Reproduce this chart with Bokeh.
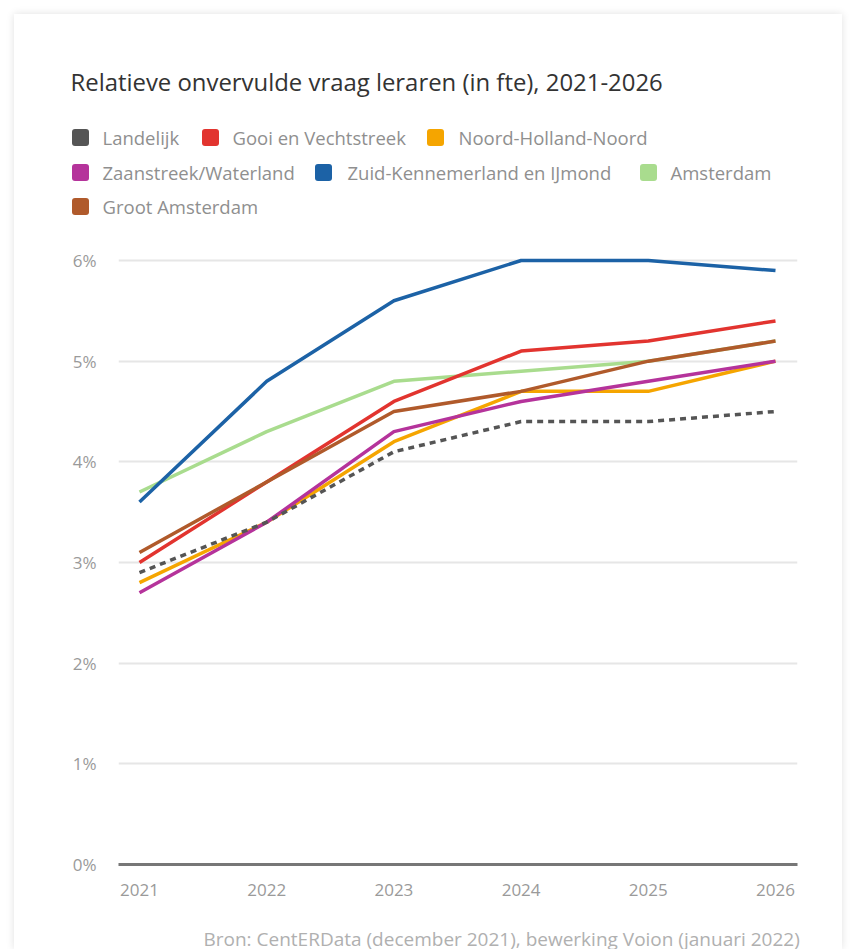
from bokeh.plotting import figure
from bokeh.models import Range1d, FixedTicker, PrintfTickFormatter
from bokeh.layouts import column
from bokeh.core.properties import value
from bokeh.embed import file_html
from bokeh.resources import INLINE

# ---------------- data ----------------
years = [2021, 2022, 2023, 2024, 2025, 2026]
series_names = ["Landelijk", "Gooi en Vechtstreek", "Noord-Holland-Noord",
                "Zaanstreek/Waterland", "Zuid-Kennemerland en IJmond",
                "Amsterdam", "Groot Amsterdam"]
landelijk = [2.9, 3.4, 4.1, 4.4, 4.4, 4.5]
gooi_vechtstreek = [3.0, 3.8, 4.6, 5.1, 5.2, 5.4]
noord_holland_noord = [2.8, 3.4, 4.2, 4.7, 4.7, 5.0]
zaanstreek_waterland = [2.7, 3.4, 4.3, 4.6, 4.8, 5.0]
zuid_kennemerland = [3.6, 4.8, 5.6, 6.0, 6.0, 5.9]
amsterdam = [3.7, 4.3, 4.8, 4.9, 5.0, 5.2]
groot_amsterdam = [3.1, 3.8, 4.5, 4.7, 5.0, 5.2]
y_ticks = [0, 1, 2, 3, 4, 5, 6]

title_text = "Relatieve onvervulde vraag leraren (in fte), 2021-2026"
source_text = "Bron:  CentERData (december 2021), bewerking Voion (januari 2022)"

# ---------------- styles ----------------
all_series = [landelijk, gooi_vechtstreek, noord_holland_noord, zaanstreek_waterland,
              zuid_kennemerland, amsterdam, groot_amsterdam]
colors = ["#555555", "#e2342f", "#f5a500", "#b5339b", "#1c62a6", "#a9dc8e", "#b05a2b"]
dashes = ["6 5", "solid", "solid", "solid", "solid", "solid", "solid"]
draw_order = [5, 4, 2, 3, 1, 6, 0]

FONT = "Open Sans"
CARD_L, CARD_R, CARD_T = 14, 842, 14
W = CARD_R - CARD_L

# legend layout (page pixel coordinates: swatch centre x, text x, row y)
legend_pos = [(80, 102, 137), (210, 232, 137), (435, 458, 137),
              (80, 102, 172), (323, 347, 172), (648, 670, 172),
              (80, 102, 206)]


def blank(fig):
    fig.axis.visible = False
    fig.grid.visible = False
    fig.outline_line_color = None
    fig.background_fill_color = "white"
    fig.border_fill_color = "white"


# ---------------- header ----------------
HEADER_B = 230
header = figure(width=W, height=HEADER_B - CARD_T, output_backend="svg",
                toolbar_location=None, x_range=Range1d(CARD_L, CARD_R),
                y_range=Range1d(HEADER_B, CARD_T), min_border=0, frame_align=False)
blank(header)
header.text(x=[70], y=[81], text=[title_text], text_font=value(FONT),
            text_font_size="23.9px", text_color="#333333", text_baseline="middle")
header.rect(x=[q[0] for q in legend_pos], y=[q[2] for q in legend_pos],
            width=17, height=17, fill_color=colors, line_color=None,
            border_radius=3)
header.text(x=[q[1] for q in legend_pos], y=[q[2] for q in legend_pos],
            text=series_names, text_font=value(FONT), text_font_size="18.5px",
            text_color="#8f8f8f", text_baseline="middle")

# ---------------- main chart ----------------
FRAME_L, FRAME_R, FRAME_T, FRAME_B = 118, 797, 230, 864
MAIN_B = 914
px_per_year = (775 - 139) / 5.0
x0 = 2021 - (139 - FRAME_L) / px_per_year
x1 = 2026 + (FRAME_R - 775) / px_per_year
px_per_pct = (864 - 260) / 6.0
y1 = 6 + (260 - FRAME_T) / px_per_pct

p = figure(width=W, height=MAIN_B - HEADER_B, output_backend="svg",
           toolbar_location=None, x_range=Range1d(x0, x1), y_range=Range1d(0, y1),
           min_border_left=FRAME_L - CARD_L, min_border_right=CARD_R - FRAME_R,
           min_border_top=0, min_border_bottom=MAIN_B - FRAME_B, frame_align=False)
p.outline_line_color = None
p.background_fill_color = "white"
p.border_fill_color = "white"

for i in draw_order:
    p.line(years, all_series[i], line_color=colors[i], line_width=3.5,
           line_dash=dashes[i], line_cap="butt", line_join="round")

p.xgrid.visible = False
p.ygrid.grid_line_color = "#e6e6e6"
p.ygrid.grid_line_width = 2
p.yaxis.ticker = FixedTicker(ticks=y_ticks)
p.xaxis.ticker = FixedTicker(ticks=years)
p.yaxis.formatter = PrintfTickFormatter(format="%d%%")
p.xaxis.formatter = PrintfTickFormatter(format="%d")
for ax in (p.xaxis, p.yaxis):
    ax.major_tick_line_color = None
    ax.minor_tick_line_color = None
    ax.major_label_text_font = FONT
    ax.major_label_text_font_size = "17px"
    ax.major_label_text_color = "#9a9a9a"
p.yaxis.axis_line_color = None
p.yaxis.major_label_standoff = 16
p.xaxis.axis_line_color = "#777777"
p.xaxis.axis_line_width = 3
p.xaxis.major_label_standoff = 13

# ---------------- footer ----------------
FOOT_B = 949
footer = figure(width=W, height=FOOT_B - MAIN_B, output_backend="svg",
                toolbar_location=None, x_range=Range1d(CARD_L, CARD_R),
                y_range=Range1d(FOOT_B, MAIN_B), min_border=0, frame_align=False)
blank(footer)
footer.text(x=[203], y=[938], text=[source_text], text_font=value(FONT),
            text_font_size="19px", text_color="#b0b0b0", text_baseline="alphabetic")

layout = column(header, p, footer, margin=(CARD_T, 0, 0, CARD_L),
                styles={"box-shadow": "0 0 8px rgba(0,0,0,0.12)"})

open("out.html", "w").write(file_html(layout, INLINE))
